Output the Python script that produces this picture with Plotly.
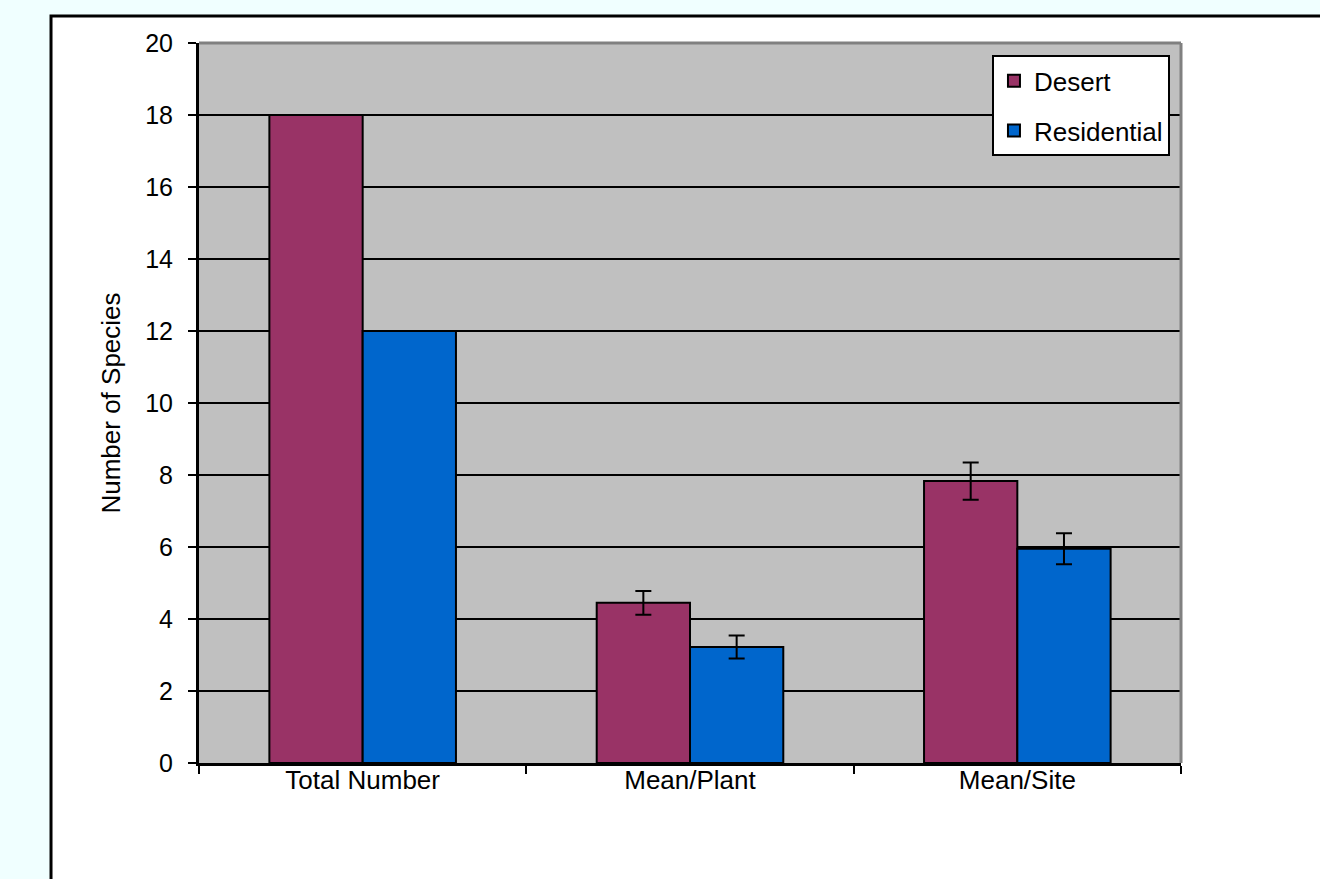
import plotly.graph_objects as go

categories = ["Total Number", "Mean/Plant", "Mean/Site"]
desert = [18, 4.45, 7.83]
desert_err = [None, 0.33, 0.52]
residential = [12, 3.22, 5.95]
residential_err = [None, 0.32, 0.43]
y_ticks = [0, 2, 4, 6, 8, 10, 12, 14, 16, 18, 20]

FONT = "Liberation Sans, Arial, sans-serif"

def err(vals):
    return [0 if v is None else v for v in vals]

fig = go.Figure()
fig.add_trace(go.Bar(
    name="Desert", x=categories, y=desert, legendgroup="d",
    marker=dict(color="#993366", line=dict(color="#000000", width=2)),
    error_y=dict(type="data", array=err(desert_err), visible=True,
                 color="#000000", thickness=2, width=8),
))
fig.add_trace(go.Bar(
    name="Residential", x=categories, y=residential, legendgroup="r",
    marker=dict(color="#0066CC", line=dict(color="#000000", width=2)),
    error_y=dict(type="data", array=err(residential_err), visible=True,
                 color="#000000", thickness=2, width=8),
))

# outer white chart box
fig.add_shape(type="rect", xref="paper", yref="paper",
              x0=-0.1507, x1=1.16, y0=-0.2, y1=1.0375,
              fillcolor="#FFFFFF", line=dict(color="#000000", width=3),
              layer="below")
# grey plot area
fig.add_shape(type="rect", xref="paper", yref="paper",
              x0=0, x1=1, y0=0, y1=1,
              fillcolor="#C0C0C0", line=dict(width=0),
              layer="below")
# grey plot border on top and right
fig.add_shape(type="line", xref="paper", yref="paper", x0=0, x1=1, y0=1, y1=1,
              line=dict(color="#808080", width=3))
fig.add_shape(type="line", xref="paper", yref="paper", x0=1, x1=1, y0=0, y1=1,
              line=dict(color="#808080", width=3))

fig.update_layout(
    width=1320, height=879,
    margin=dict(l=199, r=139, t=43, b=116, pad=0),
    paper_bgcolor="#F0FFFF",
    plot_bgcolor="#C0C0C0",
    barmode="group",
    bargap=0.43,
    bargroupgap=0,
    font=dict(family=FONT, size=25, color="#000000"),
    showlegend=True,
    legend=dict(
        x=0.8075, y=0.983, xanchor="left", yanchor="top",
        bgcolor="#FFFFFF", bordercolor="#000000", borderwidth=2,
        font=dict(family=FONT, size=26, color="#000000"),
        traceorder="grouped", tracegroupgap=13,
        itemsizing="constant",
    ),
    xaxis=dict(
        type="category",
        showline=True, linecolor="#000000", linewidth=3,
        ticks="outside", tickson="boundaries", ticklen=8, tickwidth=2,
        tickcolor="#000000", showgrid=False,
        tickfont=dict(family=FONT, size=26),
        ticklabelstandoff=-8,
    ),
    yaxis=dict(
        range=[0, 20], tickvals=y_ticks,
        showline=True, linecolor="#000000", linewidth=3,
        ticks="outside", ticklen=8, tickwidth=2, tickcolor="#000000",
        showgrid=True, gridcolor="#000000", gridwidth=2,
        zeroline=False,
        tickfont=dict(family=FONT, size=25),
        ticklabelstandoff=10,
        title=dict(text="Number of Species", font=dict(family=FONT, size=26), standoff=18),
    ),
)

fig.write_html(
    "out.html",
    config={"displayModeBar": False},
    post_script="document.body.style.margin='0';document.body.style.background='#F0FFFF';",
)
